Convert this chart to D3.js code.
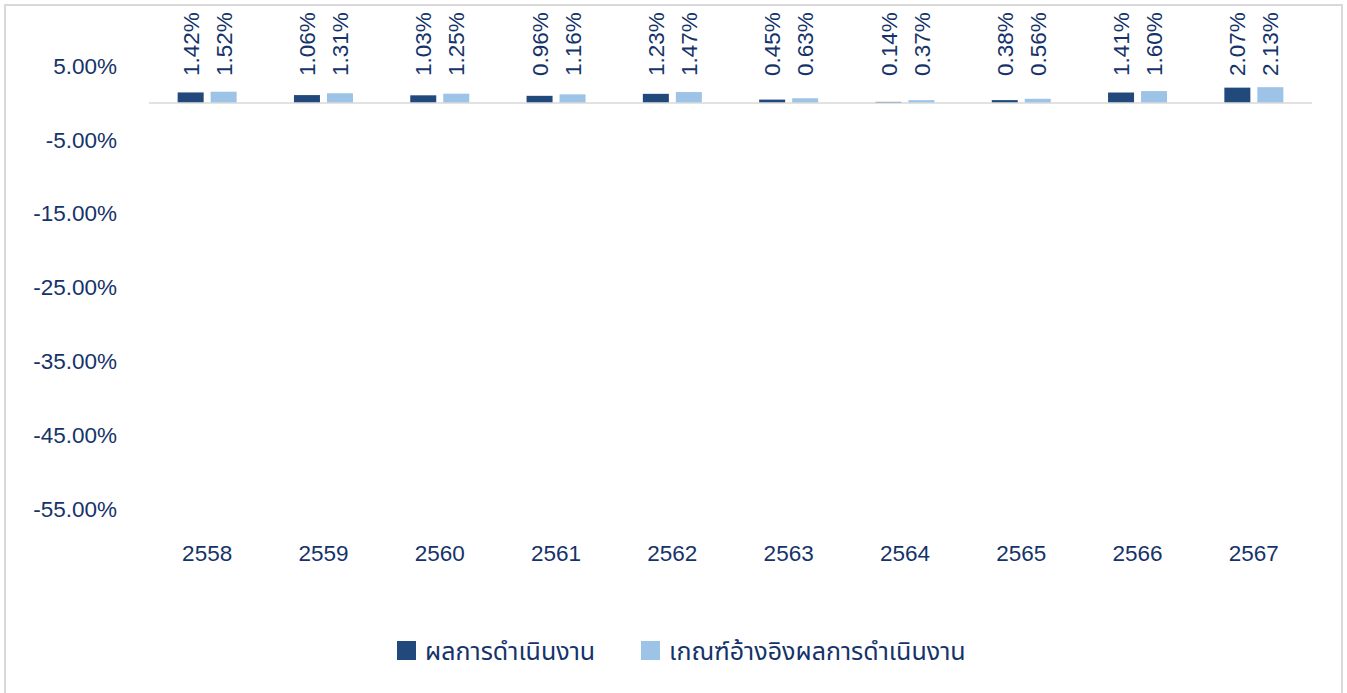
<!DOCTYPE html>
<html>
<head>
<meta charset="utf-8">
<script src="https://cdn.jsdelivr.net/npm/d3@7"></script>
<style>
  body { margin: 0; background: #fff; }
  text { font-family: "Liberation Sans", Arial, sans-serif; fill: #15336a; }
  .thai { font-family: Tahoma, "Noto Sans Thai", "Leelawadee UI", "Noto Sans", sans-serif; }
</style>
</head>
<body>
<div class="chart"></div>
<script>
var years = ['2558', '2559', '2560', '2561', '2562', '2563', '2564', '2565', '2566', '2567'];
var seriesNames = ['ผลการดำเนินงาน', 'เกณฑ์อ้างอิงผลการดำเนินงาน'];
var actual = [1.42, 1.06, 1.03, 0.96, 1.23, 0.45, 0.14, 0.38, 1.41, 2.07];
var benchmark = [1.52, 1.31, 1.25, 1.16, 1.47, 0.63, 0.37, 0.56, 1.60, 2.13];
var yTicks = [5, -5, -15, -25, -35, -45, -55];

var colors = ['#22497c', '#9dc3e6'];
var width = 1347, height = 693;

var svg = d3.select('.chart').append('svg').attr('width', width).attr('height', height);

// outer border
svg.append('rect').attr('x', 5).attr('y', 5).attr('width', 1337).attr('height', 700)
  .attr('fill', 'none').attr('stroke', '#d9d9d9').attr('stroke-width', 2);

var x = d3.scaleBand().domain(years).range([149, 1312]);
var x1 = d3.scaleBand().domain([0, 1])
  .range([x.bandwidth() / 2 - 29.5, x.bandwidth() / 2 + 29.5]).paddingInner(0.212);
var y = d3.scaleLinear().domain([-55, 5]).range([509, 66]);

// y axis labels
var yAxis = svg.append('g').attr('transform', 'translate(117,0)')
  .call(d3.axisLeft(y).tickValues(yTicks).tickSize(0).tickPadding(0)
    .tickFormat(function(d) { return (d < 0 ? '-' : '') + Math.abs(d).toFixed(2) + '%'; }));
yAxis.select('.domain').remove();
yAxis.selectAll('text').attr('font-size', 22.5).style('font-family', '"Liberation Sans", Arial, sans-serif').attr('fill', '#15336a');

// category labels
var xAxis = svg.append('g').attr('transform', 'translate(0,545)')
  .call(d3.axisBottom(x).tickSize(0).tickPadding(0));
xAxis.select('.domain').remove();
xAxis.selectAll('text').attr('font-size', 22.5).style('font-family', '"Liberation Sans", Arial, sans-serif').attr('fill', '#15336a');

var rows = years.map(function(yr, i) { return { year: yr, values: [actual[i], benchmark[i]] }; });

var groups = svg.selectAll('.grp').data(rows).enter().append('g').attr('class', 'grp')
  .attr('transform', function(d) { return 'translate(' + x(d.year) + ',0)'; });

groups.selectAll('rect').data(function(d) { return d.values; }).enter().append('rect')
  .attr('x', function(d, i) { return x1(i); })
  .attr('y', function(d) { return y(Math.max(0, d)); })
  .attr('width', x1.bandwidth())
  .attr('height', function(d) { return Math.abs(y(d) - y(0)); })
  .attr('fill', function(d, i) { return colors[i]; });

// value labels (rotated)
groups.selectAll('.lbl').data(function(d) { return d.values; }).enter().append('text')
  .attr('class', 'lbl')
  .attr('transform', function(d, i) {
    var cx = x1(i) + x1.bandwidth() / 2;
    var cy = Math.min(y(d) - 11, 76);
    return 'translate(' + cx + ',' + cy + ') rotate(-90)';
  })
  .attr('dy', '0.36em')
  .attr('font-size', 22.5)
  .text(function(d) { return d.toFixed(2) + '%'; });

// zero line
svg.append('line').attr('x1', 149).attr('x2', 1312).attr('y1', y(0)).attr('y2', y(0))
  .attr('stroke', '#d9d9d9').attr('stroke-width', 1.5);

// legend
var legendX = [397, 641];
var legend = svg.selectAll('.leg').data(seriesNames).enter().append('g').attr('class', 'leg')
  .attr('transform', function(d, i) { return 'translate(' + legendX[i] + ',641)'; });
legend.append('rect').attr('width', 19).attr('height', 19).attr('fill', function(d, i) { return colors[i]; });
legend.append('text').attr('class', 'thai').attr('x', 28).attr('y', 10).attr('dy', '0.35em')
  .attr('font-size', 25).text(function(d) { return d; });
</script>
</body>
</html>
